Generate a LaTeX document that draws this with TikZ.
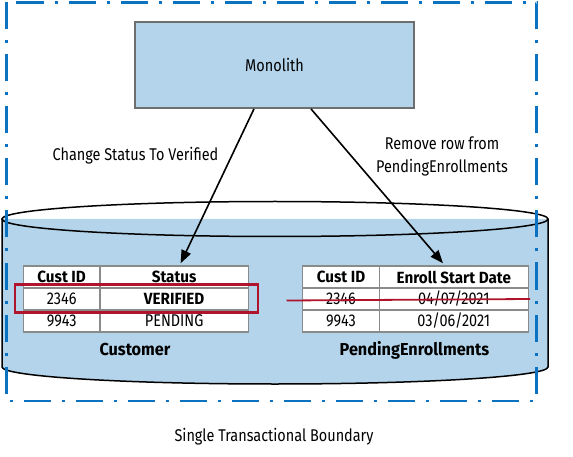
\documentclass[tikz,border=0pt]{standalone}
\usepackage{fontspec}
\setmainfont[FakeStretch=0.85, BoldFeatures={FakeStretch=0.94}]{Fira Sans}
\usetikzlibrary{arrows.meta}
\definecolor{fillblue}{HTML}{B3D4EA}
\definecolor{bndblue}{HTML}{0B72C2}
\definecolor{redmark}{HTML}{B0142C}
\definecolor{cellgray}{HTML}{8A8A8A}
\definecolor{monogray}{HTML}{6E6E6E}
\begin{document}
\begin{tikzpicture}[x=1pt,y=-1pt,
  every node/.style={font=\fontsize{17}{20}\selectfont, inner sep=0pt},
  monobox/.style={draw=monogray, line width=1.8pt, fill=fillblue, minimum width=279pt, minimum height=86pt},
  cell/.style={draw=cellgray, line width=1.5pt, fill=white, minimum height=22pt},
  colA/.style={cell, minimum width=76.7pt},
  colB/.style={cell, minimum width=148.3pt},
  colC/.style={cell, minimum width=149pt},
  hdr/.style={font=\fontsize{16.2}{20}\selectfont\bfseries},
  tlabel/.style={font=\fontsize{17.3}{20}\selectfont\bfseries},
  arr/.style={line width=1.6pt, -{Triangle[length=13pt,width=10pt]}},
  cylline/.style={draw=black, line width=1.5pt},
  bnd/.style={draw=bndblue, line width=2.8pt, dash pattern=on 27pt off 11pt on 3pt off 11pt},
  redbox/.style={draw=redmark, line width=2.8pt},
  strike/.style={draw=redmark, line width=1.8pt}
]
\useasboundingbox (0,0) rectangle (573,457);
% cylinder
\fill[fillblue] (2,219) -- (2,367) arc[start angle=180, end angle=360, x radius=273pt, y radius=17pt] -- (548,219) -- cycle;
\draw[cylline] (2,219) -- (2,367) arc[start angle=180, end angle=360, x radius=273pt, y radius=17pt] -- (548,219);
\draw[cylline] (275,219) ellipse [x radius=273pt, y radius=17.5pt];
% Customer table
\node[colA,hdr] (c1h1) at (61.65,277) {Cust ID};
\node[colB,hdr] (c1h2) at (174.15,277) {Status};
\node[colA] (c1a1) at (61.65,299) {2346};
\node[colB,hdr] (c1a2) at (174.15,299) {VERIFIED};
\node[colA] (c1b1) at (61.65,321) {9943};
\node[colB] (c1b2) at (174.15,321) {PENDING};
% Pending table
\node[colA,hdr] (p1h1) at (341,277) {Cust ID};
\node[colC,hdr] (p1h2) at (453.8,277) {Enroll Start Date};
\node[colA] (p1a1) at (341,299) {2346};
\node[colC] (p1a2) at (453.8,299) {04/07/2021};
\node[colA] (p1b1) at (341,321) {9943};
\node[colC] (p1b2) at (453.8,321) {03/06/2021};
% marks
\draw[redbox] (15,284.5) rectangle (258,312.5);
\coordinate (sA) at (286.5,300.5);
\coordinate (sB) at (530,299);
\draw[strike] (sA) -- (sB);
% table labels
\node[tlabel] (custlbl) at (135,350) {Customer};
\node[tlabel] (penlbl) at (414.5,350) {PendingEnrollments};
% monolith
\node[monobox] (mono) at (274.5,65) {Monolith};
\draw[arr] ([xshift=-20.5pt]mono.south) -- ([xshift=6.5pt,yshift=2pt]c1h2.north);
\draw[arr] ([xshift=36.5pt]mono.south) -- ([xshift=-10.8pt,yshift=2pt]p1h2.north);
\node (lblL) at (135.5,156) {Change Status To Verified};
\node[align=center, font=\fontsize{17}{22.7}\selectfont] (lblR) at (442,156.5) {Remove row from\\PendingEnrollments};
% boundary
\draw[bnd] (6.5,2.5) rectangle (536.5,401);
\node (bndlbl) at (274,437) {Single Transactional Boundary};
\end{tikzpicture}
\end{document}
